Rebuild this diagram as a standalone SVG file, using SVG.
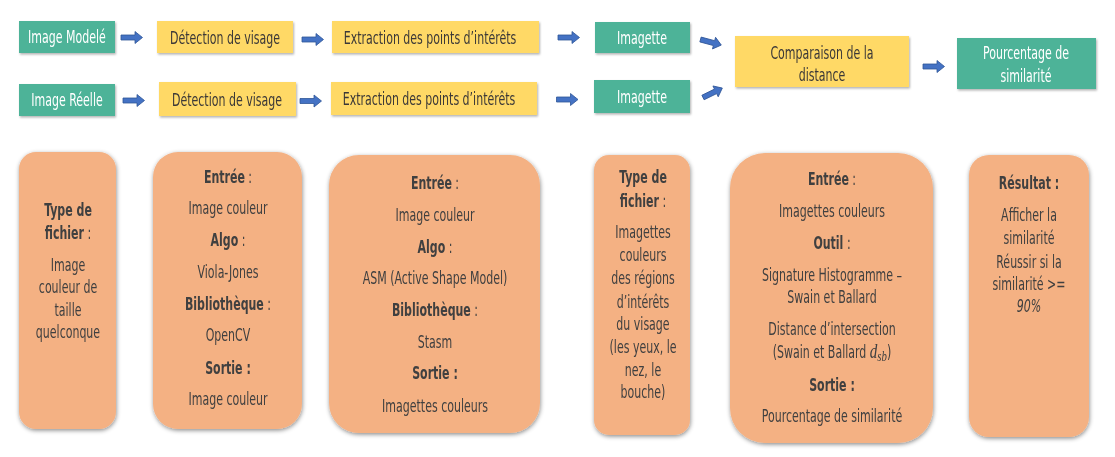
<svg xmlns="http://www.w3.org/2000/svg" xmlns:xlink="http://www.w3.org/1999/xlink" width="1115" height="457" viewBox="0 0 1115 457">
  <style>
    text {
      font-family: "DejaVu Sans Condensed", "Liberation Sans Narrow", "Roboto Condensed", sans-serif;
      font-size: 17px;
      text-anchor: middle;
      transform-box: fill-box;
      transform-origin: center;
      transform: scaleX(0.72);
    }
    .green rect { fill: #4EB398; }
    .green text { fill: #ffffff; }
    .yellow rect { fill: #FFD966; }
    .yellow text { fill: #3B3838; }
    .card rect { fill: #F4B183; }
    .card text { fill: #404040; }
    .b { font-weight: bold; }
    .arrow { fill: #4472C4; stroke: #2F5597; stroke-width: 0.8; }
  </style>
  <defs>
    <filter id="shadow" x="-20%" y="-20%" width="140%" height="140%">
      <feDropShadow dx="0.5" dy="1.5" stdDeviation="2" flood-color="#000" flood-opacity="0.45"/>
    </filter>
    <filter id="shadowSoft" x="-10%" y="-10%" width="130%" height="130%">
      <feDropShadow dx="1" dy="1.5" stdDeviation="1" flood-color="#000" flood-opacity="0.3"/>
    </filter>
    <!-- block arrow, pointing right, anchored at its tail centre -->
    <path id="arr" d="M0,-2.5 H14 V-6 L21.5,0 L14,6 V2.5 H0 Z"/>
  </defs>

  <rect width="1115" height="457" fill="#ffffff"/>

  <!-- pipeline, top row -->
  <g id="image-modele" class="step green" filter="url(#shadowSoft)">
    <rect x="19" y="21" width="96" height="32"/>
    <text x="67" y="43.5">Image Modelé</text>
  </g>
  <g id="detection-1" class="step yellow" filter="url(#shadowSoft)">
    <rect x="157" y="21" width="136" height="32"/>
    <text x="225" y="44">Détection de visage</text>
  </g>
  <g id="extraction-1" class="step yellow" filter="url(#shadowSoft)">
    <rect x="332" y="21" width="207" height="32"/>
    <text x="430" y="44">Extraction des points d’intérêts</text>
  </g>
  <g id="imagette-1" class="step green" filter="url(#shadowSoft)">
    <rect x="595" y="22" width="95" height="31"/>
    <text x="642" y="44">Imagette</text>
  </g>

  <!-- pipeline, second row -->
  <g id="image-reelle" class="step green" filter="url(#shadowSoft)">
    <rect x="19" y="84" width="96" height="32"/>
    <text x="67" y="106.5">Image Réelle</text>
  </g>
  <g id="detection-2" class="step yellow" filter="url(#shadowSoft)">
    <rect x="159" y="82" width="137" height="34"/>
    <text x="227" y="106">Détection de visage</text>
  </g>
  <g id="extraction-2" class="step yellow" filter="url(#shadowSoft)">
    <rect x="331" y="82" width="206" height="33"/>
    <text x="429" y="105">Extraction des points d’intérêts</text>
  </g>
  <g id="imagette-2" class="step green" filter="url(#shadowSoft)">
    <rect x="594" y="80" width="96" height="33"/>
    <text x="642" y="103">Imagette</text>
  </g>

  <!-- merge and result -->
  <g id="comparaison" class="step yellow" filter="url(#shadowSoft)">
    <rect x="735" y="36" width="174" height="51"/>
    <text x="822" y="59">Comparaison de la</text>
    <text x="822" y="81">distance</text>
  </g>
  <g id="pourcentage" class="step green" filter="url(#shadowSoft)">
    <rect x="957" y="38" width="139" height="51"/>
    <text x="1026" y="59">Pourcentage de</text>
    <text x="1026" y="82">similarité</text>
  </g>

  <!-- connectors -->
  <g id="connectors" class="arrow">
    <use xlink:href="#arr" transform="translate(121,37.5)"/>
    <use xlink:href="#arr" transform="translate(302,39.5)"/>
    <use xlink:href="#arr" transform="translate(558,37.5)"/>
    <use xlink:href="#arr" transform="translate(700.5,39.5) rotate(15)"/>
    <use xlink:href="#arr" transform="translate(123,100.5)"/>
    <use xlink:href="#arr" transform="translate(300,101)"/>
    <use xlink:href="#arr" transform="translate(556.5,99.5)"/>
    <use xlink:href="#arr" transform="translate(703,97.5) rotate(-26)"/>
    <use xlink:href="#arr" transform="translate(923,66.5)"/>
  </g>

  <!-- description cards -->
  <g id="card-image" class="card" filter="url(#shadow)">
    <rect x="19" y="152" width="97" height="277" rx="17"/>
    <text x="68" y="216" class="b">Type de</text>
    <text x="68" y="239"><tspan class="b">fichier</tspan> :</text>
    <text x="68" y="271">Image</text>
    <text x="68" y="293">couleur de</text>
    <text x="68" y="316">taille</text>
    <text x="68" y="338">quelconque</text>
  </g>

  <g id="card-detection" class="card" filter="url(#shadow)">
    <rect x="153" y="152" width="149" height="277" rx="25"/>
    <text x="228" y="183"><tspan class="b">Entrée</tspan> :</text>
    <text x="228" y="214">Image couleur</text>
    <text x="228" y="246"><tspan class="b">Algo</tspan> :</text>
    <text x="228" y="278">Viola-Jones</text>
    <text x="228" y="310"><tspan class="b">Bibliothèque</tspan> :</text>
    <text x="228" y="341">OpenCV</text>
    <text x="228" y="374" class="b">Sortie :</text>
    <text x="228" y="405">Image couleur</text>
  </g>

  <g id="card-extraction" class="card" filter="url(#shadow)">
    <rect x="329" y="155" width="211" height="278" rx="30"/>
    <text x="435" y="189"><tspan class="b">Entrée</tspan> :</text>
    <text x="435" y="221">Image couleur</text>
    <text x="435" y="253"><tspan class="b">Algo</tspan> :</text>
    <text x="435" y="284">ASM (Active Shape Model)</text>
    <text x="435" y="316"><tspan class="b">Bibliothèque</tspan> :</text>
    <text x="435" y="348">Stasm</text>
    <text x="435" y="379" class="b">Sortie :</text>
    <text x="435" y="412">Imagettes couleurs</text>
  </g>

  <g id="card-imagette" class="card" filter="url(#shadow)">
    <rect x="594" y="155" width="96" height="280" rx="15"/>
    <text x="643" y="183" class="b">Type de</text>
    <text x="643" y="207"><tspan class="b">fichier</tspan> :</text>
    <text x="643" y="238">Imagettes</text>
    <text x="643" y="261">couleurs</text>
    <text x="643" y="284">des régions</text>
    <text x="643" y="308">d’intérêts</text>
    <text x="643" y="330">du visage</text>
    <text x="643" y="353">(les yeux, le</text>
    <text x="643" y="376">nez, le</text>
    <text x="643" y="398">bouche)</text>
  </g>

  <g id="card-comparaison" class="card" filter="url(#shadow)">
    <rect x="730" y="153" width="203" height="290" rx="35"/>
    <text x="832" y="185"><tspan class="b">Entrée</tspan> :</text>
    <text x="832" y="217">Imagettes couleurs</text>
    <text x="832" y="249"><tspan class="b">Outil</tspan> :</text>
    <text x="832" y="281">Signature Histogramme –</text>
    <text x="832" y="303">Swain et Ballard</text>
    <text x="832" y="335">Distance d’intersection</text>
    <text x="832" y="358">(Swain et Ballard <tspan font-family="'Liberation Serif', serif" font-style="italic" font-size="21">d</tspan><tspan font-family="'Liberation Serif', serif" font-style="italic" font-size="15" dy="3">sb</tspan><tspan dy="-3">)</tspan></text>
    <text x="832" y="391" class="b">Sortie :</text>
    <text x="832" y="422">Pourcentage de similarité</text>
  </g>

  <g id="card-resultat" class="card" filter="url(#shadow)">
    <rect x="969" y="155" width="120" height="282" rx="20"/>
    <text x="1029" y="189" class="b">Résultat :</text>
    <text x="1029" y="221">Afficher la</text>
    <text x="1029" y="244">similarité</text>
    <text x="1029" y="268">Réussir si la</text>
    <text x="1029" y="290">similarité &gt;=</text>
    <text x="1029" y="312" font-style="italic">90%</text>
  </g>
</svg>
